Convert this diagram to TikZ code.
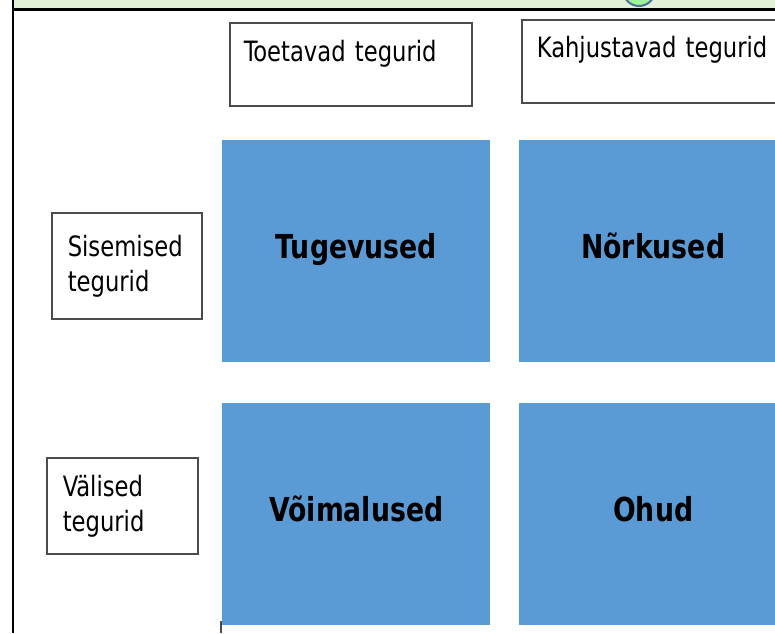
\documentclass[tikz,border=0pt]{standalone}
\usepackage{fontspec}
\setmainfont[FakeStretch=0.9]{DejaVu Sans Condensed}
\usetikzlibrary{positioning}
\definecolor{swotblue}{HTML}{5B9BD5}
\definecolor{bargreen}{HTML}{E2F0D9}
\definecolor{iconblue}{HTML}{4F6F96}

\begin{document}
\begin{tikzpicture}[x=0.5pt,y=-0.5pt,
    factor/.style={draw=black!70,line width=0.8pt,rectangle,align=left,
      font=\fontsize{14}{17.5}\selectfont},
    quad/.style={fill=swotblue,rectangle,minimum width=134pt,minimum height=111pt,
      inner sep=0pt,text height=11.5pt,text depth=4pt,
      font=\fontsize{16.5}{19}\bfseries\selectfont}]
      \useasboundingbox (0,0) rectangle (775,633);

      % top strip and frame
      \fill[bargreen] (13,0) rectangle (775,8);
      \begin{scope}
        \clip (13,0) rectangle (775,8);
        \draw[iconblue,fill=bargreen!70!green,line width=1pt] (639,-10) circle (16);
      \end{scope}
      \draw[line width=1.5pt] (13,9)--(775,9);
      \draw[line width=1pt] (13,0)--(13,633);

      % column headers
      \node[factor,anchor=north west,text width=107pt,inner xsep=7pt,inner ysep=0pt,
        text height=19.4pt,text depth=22.2pt] (toetavad) at (229,22) {Toetavad tegurid};
      \node[factor,anchor=north west,text width=125pt,inner xsep=7.5pt,inner ysep=0pt,
        text height=19pt,text depth=22.5pt] (kahjustavad) at (521,19) {Kahjustavad tegurid};

      % row headers
      \node[factor,anchor=north west,text width=59pt,inner xsep=8pt,inner ysep=0pt,
        minimum height=53pt] (sisemised) at (51,212) {Sisemised\\tegurid};
      \node[factor,anchor=north west,text width=59.5pt,inner xsep=8pt,inner ysep=0pt,
        minimum height=48pt] (valised) at (46,457) {Välised\\tegurid};

      % the four fields
      \node[quad,anchor=north west] (tugevused) at (222,140) {Tugevused};
      \node[quad,right = 14pt of tugevused] (norkused) {Nõrkused};
      \node[quad,below = 20pt of tugevused] (voimalused) {Võimalused};
      \node[quad,right = 14pt of voimalused] (ohud) {Ohud};

      \draw[black!70,line width=0.8pt] (221,621)--(221,633);
    \end{tikzpicture}
\end{document}
